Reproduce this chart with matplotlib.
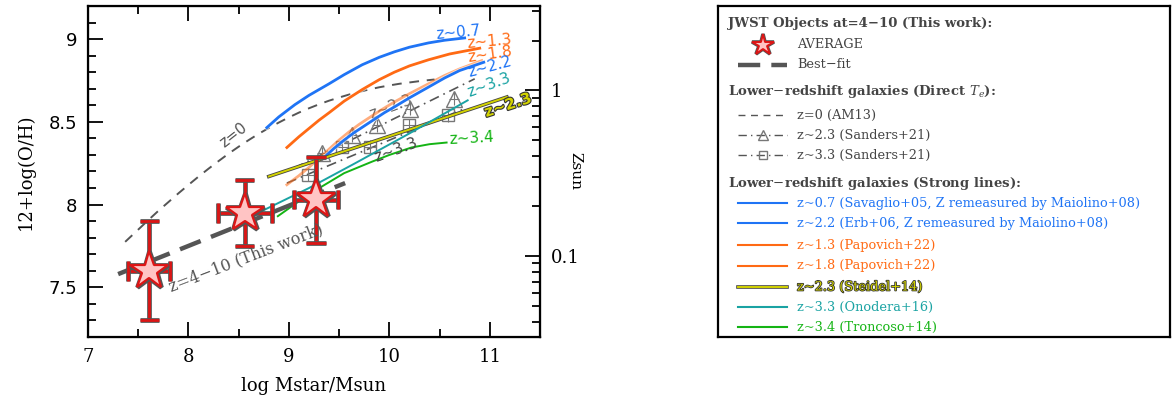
import matplotlib
matplotlib.use("Agg")
import matplotlib.pyplot as plt
import matplotlib.patheffects as pe
from matplotlib.ticker import MultipleLocator, LogLocator, FixedLocator, NullFormatter, FuncFormatter
import numpy as np

plt.rcParams["font.family"] = ["DejaVu Serif"]
plt.rcParams["mathtext.fontset"] = "dejavuserif"

# --- data ---
star_mass = [7.61, 8.56, 9.27]
star_oh = [7.60, 7.95, 8.03]
star_xerr = [0.21, 0.27, 0.22]
star_yerr = [0.30, 0.20, 0.26]

bestfit_mass = [7.30, 9.56]
bestfit_oh = [7.58, 8.13]

am13_mass = [7.37, 7.5, 7.6, 7.7, 7.8, 7.9, 8.0, 8.1, 8.2, 8.3, 8.4, 8.5, 8.6, 8.7, 8.8, 8.9, 9.0,
             9.1, 9.2, 9.3, 9.4, 9.5, 9.6, 9.7, 9.8, 9.9, 10.0, 10.1, 10.2, 10.3, 10.45]
am13_oh = [7.775, 7.849, 7.906, 7.962, 8.015, 8.068, 8.119, 8.169, 8.217, 8.263, 8.308, 8.350,
           8.390, 8.428, 8.463, 8.496, 8.527, 8.556, 8.582, 8.606, 8.628, 8.647, 8.665, 8.681,
           8.696, 8.709, 8.720, 8.730, 8.738, 8.746, 8.756]

sanders23_fit_mass = [9.05, 10.85]
sanders23_fit_oh = [8.22, 8.76]
sanders23_mass = [9.33, 9.63, 9.88, 10.21, 10.64]
sanders23_oh = [8.31, 8.42, 8.48, 8.58, 8.64]

sanders33_fit_mass = [8.98, 10.75]
sanders33_fit_oh = [8.13, 8.58]
sanders33_mass = [9.19, 9.53, 9.81, 10.20, 10.58]
sanders33_oh = [8.18, 8.35, 8.35, 8.48, 8.54]

z07_mass = [8.78, 8.9, 9.06, 9.2, 9.4, 9.55, 9.73, 9.9, 10.05, 10.2, 10.39, 10.55, 10.75]
z07_oh = [8.465, 8.53, 8.604, 8.66, 8.73, 8.785, 8.845, 8.89, 8.923, 8.951, 8.977, 8.993, 9.007]
z13_mass = [8.98, 9.1, 9.2, 9.3, 9.4, 9.55, 9.73, 9.9, 10.05, 10.2, 10.39, 10.6, 10.9]
z13_oh = [8.345, 8.41, 8.46, 8.51, 8.555, 8.625, 8.695, 8.755, 8.80, 8.838, 8.875, 8.91, 8.945]
z18_mass = [8.98, 9.1, 9.2, 9.3, 9.4, 9.5, 9.6, 9.7, 9.8, 9.9, 10.05, 10.2, 10.39, 10.55, 10.7, 10.92]
z18_oh = [8.12, 8.175, 8.225, 8.28, 8.335, 8.39, 8.44, 8.485, 8.525, 8.565, 8.62, 8.67, 8.73,
          8.78, 8.82, 8.87]
z22_mass = [9.36, 9.45, 9.55, 9.65, 9.75, 9.85, 9.95, 10.05, 10.2, 10.39, 10.55, 10.7, 10.94]
z22_oh = [8.29, 8.34, 8.39, 8.435, 8.475, 8.515, 8.555, 8.59, 8.645, 8.71, 8.765, 8.81, 8.86]
steidel_mass = [8.80, 11.17]
steidel_oh = [8.17, 8.65]
onodera_mass = [8.66, 9.2, 9.66, 10.2, 10.78]
onodera_oh = [7.94, 8.10, 8.25, 8.43, 8.63]
troncoso_mass = [8.89, 9.1, 9.33, 9.55, 9.83, 10.0, 10.22, 10.4, 10.57]
troncoso_oh = [7.93, 8.02, 8.11, 8.19, 8.26, 8.30, 8.345, 8.365, 8.375]

solar_oh = 8.69

BLUE = "#1f74f5"
ORANGE = "#ff6a14"
YELLOW = "#d2d200"
TEAL = "#1aa3a3"
GREEN = "#14b414"
GRAY = "#555555"
RED = "#dd1515"
PINK = "#ffc4c4"

fig = plt.figure(figsize=(11.72, 4.07), dpi=100)
ax = fig.add_axes([88 / 1172, 70 / 407, 452 / 1172, 331 / 407])

ax.plot(am13_mass, am13_oh, ls=(0, (5, 4)), color=GRAY, lw=1.4, zorder=2)
ax.plot(sanders23_fit_mass, sanders23_fit_oh, ls=(0, (6, 3, 1, 3)), color=GRAY, lw=1.2, zorder=2)
ax.plot(sanders33_fit_mass, sanders33_fit_oh, ls=(0, (6, 3, 1, 3)), color=GRAY, lw=1.2, zorder=2)
ax.errorbar(sanders23_mass, sanders23_oh, xerr=0.05, yerr=0.04, fmt="^", ms=11, mfc="none",
            mec="#777777", ecolor="#777777", elinewidth=0.8, capsize=0, zorder=3)
ax.errorbar(sanders33_mass, sanders33_oh, xerr=0.06, yerr=0.04, fmt="s", ms=9, mfc="none",
            mec="#777777", ecolor="#777777", elinewidth=0.8, capsize=0, zorder=3)

halo = [pe.Stroke(linewidth=3.2, foreground="white", alpha=0.6), pe.Normal()]
ax.plot(z07_mass, z07_oh, color=BLUE, lw=2, zorder=4, path_effects=halo)
ax.plot(z13_mass, z13_oh, color=ORANGE, lw=2, zorder=4, path_effects=halo)
ax.plot(z18_mass, z18_oh, color=ORANGE, lw=2, zorder=4, alpha=0.55)
ax.plot(z22_mass, z22_oh, color=BLUE, lw=2, zorder=4, path_effects=halo)
ax.plot(steidel_mass, steidel_oh, color=YELLOW, lw=1.4, zorder=4,
        path_effects=[pe.Stroke(linewidth=2.6, foreground="#444444"), pe.Normal()])
ax.plot(onodera_mass, onodera_oh, color=TEAL, lw=1.4, zorder=4)
ax.plot(troncoso_mass, troncoso_oh, color=GREEN, lw=1.4, zorder=4)

ax.plot(bestfit_mass, bestfit_oh, color=GRAY, lw=3.2, ls=(0, (5, 2.5)), zorder=5)

outline = [pe.Stroke(linewidth=3.4, foreground=GRAY), pe.Normal()]
eb = ax.errorbar(star_mass, star_oh, xerr=star_xerr, yerr=star_yerr, fmt="none", ecolor=RED,
                 elinewidth=2, capsize=7, capthick=2, zorder=6)
for cap in eb[1]:
    cap.set_path_effects(outline)
for col in eb[2]:
    col.set_path_effects(outline)
ax.plot(star_mass, star_oh, ls="none", marker="*", ms=29, mfc=PINK, mec=RED, mew=1.6, zorder=7,
        path_effects=[pe.Stroke(linewidth=3.4, foreground=GRAY), pe.Normal()])

# curve labels
lab_kw = dict(family="DejaVu Sans", fontsize=11, zorder=8)
ax.text(8.45, 8.42, "z=0", color=GRAY, rotation=38, ha="center", va="center", **lab_kw)
ax.text(10.69, 9.04, "z~0.7", color=BLUE, rotation=5, ha="center", va="center", **lab_kw)
ax.text(11.0, 8.985, "z~1.3", color=ORANGE, rotation=5, ha="center", va="center", **lab_kw)
ax.text(11.0, 8.905, "z~1.8", color=ORANGE, rotation=8, ha="center", va="center", **lab_kw)
ax.text(11.0, 8.83, "z~2.2", color=BLUE, rotation=15, ha="center", va="center", **lab_kw)
ax.text(10.99, 8.72, "z~3.3", color=TEAL, rotation=20, ha="center", va="center", **lab_kw)
ax.text(11.18, 8.60, "z~2.3", color=YELLOW, rotation=18, ha="center", va="center", fontweight="bold",
        path_effects=[pe.Stroke(linewidth=1.6, foreground="#333333"), pe.Normal()], **lab_kw)
ax.text(10.82, 8.40, "z~3.4", color=GREEN, rotation=3, ha="center", va="center", **lab_kw)
ax.text(10.07, 8.33, "z~3.3", color="#444444", rotation=20, ha="center", va="center", **lab_kw)
ax.text(10.02, 8.59, "z~2.3", color="#666666", rotation=20, ha="center", va="center",
        family="DejaVu Sans", fontsize=11, zorder=2)
ax.text(8.57, 7.675, "z=4\u221210 (This work)", color=GRAY, rotation=21, ha="center", va="center",
        fontsize=11.5, zorder=8)

ax.set_xlim(7, 11.5)
ax.set_ylim(7.2, 9.2)
ax.xaxis.set_major_locator(MultipleLocator(1))
ax.xaxis.set_minor_locator(MultipleLocator(0.5))
ax.yaxis.set_major_locator(MultipleLocator(0.5))
ax.yaxis.set_minor_locator(MultipleLocator(0.1))
ax.yaxis.set_major_formatter(FuncFormatter(lambda v, pos: f"{v:g}"))
ax.tick_params(which="both", direction="in", top=True, right=False, width=1.3)
ax.tick_params(which="major", length=11, labelsize=13, pad=8)
ax.tick_params(which="minor", length=6)
for lbl in ax.get_yticklabels():
    lbl.set_family("DejaVu Sans")
for s in ax.spines.values():
    s.set_linewidth(1.6)
ax.set_xlabel("log Mstar/Msun", fontsize=13, labelpad=8)
ax.set_ylabel("12+log(O/H)", fontsize=13, labelpad=10)

# right axis in solar units
ax2 = ax.twinx()
ax2.set_yscale("log")
ax2.set_ylim(10 ** (7.2 - solar_oh), 10 ** (9.2 - solar_oh))
ax2.yaxis.set_major_locator(FixedLocator([0.1, 1]))
ax2.yaxis.set_minor_locator(LogLocator(base=10, subs=np.arange(2, 10)))
ax2.yaxis.set_minor_formatter(NullFormatter())
ax2.set_yticklabels(["0.1", "1"])
ax2.tick_params(which="both", direction="in", width=1.3)
ax2.tick_params(which="major", length=11, labelsize=13, pad=8)
ax2.tick_params(which="minor", length=6)
ax2.set_ylabel("Zsun", fontsize=11, rotation=-90, labelpad=2)

# legend panel
lg = fig.add_axes([718 / 1172, 70 / 407, 452 / 1172, 331 / 407])
lg.set_xlim(0, 452)
lg.set_ylim(331, 0)
lg.set_xticks([])
lg.set_yticks([])
for s in lg.spines.values():
    s.set_linewidth(1.6)

hdr = dict(fontsize=9.5, fontweight="bold", color="#444444", va="center", ha="left")
ent = dict(fontsize=9.3, va="center", ha="left")
lx0, lx1, tx = 20, 69, 79

lg.text(10, 17, "JWST Objects at=4\u221210 (This work):", **hdr)
lg.plot([45], [39], marker="*", ms=16, mfc=PINK, mec=RED, mew=1.4,
        path_effects=[pe.Stroke(linewidth=2.6, foreground=GRAY), pe.Normal()])
lg.text(tx, 39, "AVERAGE", color="#444444", **ent)
lg.plot([lx0, lx1], [59, 59], color=GRAY, lw=3.2, ls=(0, (5, 2.5)))
lg.text(tx, 59, "Best\u2212fit", color="#444444", **ent)

lg.text(10, 86, r"Lower$-$redshift galaxies (Direct $T_e$):", **hdr)
lg.plot([lx0, lx1], [109, 109], color=GRAY, lw=1.0, ls=(0, (5, 4)))
lg.text(tx, 109, "z=0 (AM13)", color="#444444", **ent)
lg.plot([lx0, (lx0 + lx1) / 2, lx1], [129] * 3, color=GRAY, lw=1.0, ls=(0, (6, 3, 1, 3)),
        marker="^", ms=7, mfc="none", mec="#777777", markevery=[1])
lg.text(tx, 129, "z~2.3 (Sanders+21)", color="#444444", **ent)
lg.plot([lx0, (lx0 + lx1) / 2, lx1], [149] * 3, color=GRAY, lw=1.0, ls=(0, (6, 3, 1, 3)),
        marker="s", ms=6, mfc="none", mec="#777777", markevery=[1])
lg.text(tx, 149, "z~3.3 (Sanders+21)", color="#444444", **ent)

lg.text(10, 177, r"Lower$-$redshift galaxies (Strong lines):", **hdr)
strong_rows = [
    (197, BLUE, "z~0.7 (Savaglio+05, Z remeasured by Maiolino+08)"),
    (217, BLUE, "z~2.2 (Erb+06, Z remeasured by Maiolino+08)"),
    (239, ORANGE, "z~1.3 (Papovich+22)"),
    (260, ORANGE, "z~1.8 (Papovich+22)"),
    (281, YELLOW, "z~2.3 (Steidel+14)"),
    (301, TEAL, "z~3.3 (Onodera+16)"),
    (321, GREEN, "z~3.4 (Troncoso+14)"),
]
for y, c, label in strong_rows:
    if c == YELLOW:
        lg.plot([lx0, lx1], [y, y], color=c, lw=1.4,
                path_effects=[pe.Stroke(linewidth=2.6, foreground="#444444"), pe.Normal()])
        lg.text(tx, y, label, color=c,
                path_effects=[pe.Stroke(linewidth=1.2, foreground="#333333"), pe.Normal()], **ent)
    else:
        lg.plot([lx0, lx1], [y, y], color=c, lw=1.5)
        lg.text(tx, y, label, color=c, **ent)

fig.savefig("out.png", dpi=100, facecolor="white")
